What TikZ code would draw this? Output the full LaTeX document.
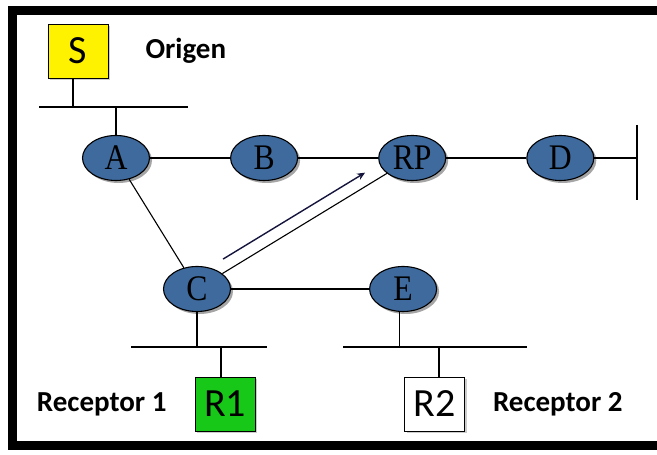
\documentclass[tikz,border=0pt]{standalone}
\usepackage{fontspec}
\setmainfont{Carlito}
\newfontfamily\routerfont[FakeStretch=0.88]{Liberation Serif}
\usetikzlibrary{positioning,shapes.geometric,shadows,calc,arrows.meta}

\definecolor{routerblue}{RGB}{62,106,158}
\definecolor{hostgreen}{RGB}{24,200,24}
\definecolor{arrowblue}{RGB}{20,20,60}

\tikzset{
    router/.style={ellipse, draw=black, line width=1.1pt, fill=routerblue,
        minimum width=67pt, minimum height=45pt, inner sep=0pt,
        font=\routerfont\fontsize{36}{36}\selectfont,
        drop shadow={shadow xshift=2.5pt, shadow yshift=-2.5pt, fill=black!70}},
    host/.style={draw=black, line width=0.6pt, minimum width=60pt,
        minimum height=54pt, inner sep=0pt, font=\fontsize{40}{40}\selectfont,
        drop shadow={shadow xshift=2pt, shadow yshift=-2pt, fill=black!40}},
    thinlink/.style={line width=1.1pt},
    thicklink/.style={line width=1.8pt},
    bus/.style={line width=2.2pt},
    tag/.style={inner sep=0pt, font=\bfseries\fontsize{29}{29}\selectfont}
}

\begin{document}
\begin{tikzpicture}[x=1pt, y=1pt]
    \useasboundingbox (0,0) rectangle (657,455);
    % frame
    \draw[line width=9pt] (657,444) -- (12.5,444) -- (12.5,9) -- (657,9);

    % routers
    \node[router] (a) at (116,297) {A};
    \node[router, right=80pt of a] (b) {B};
    \node[router, right=80pt of b] (rp) {RP};
    \node[router, right=80pt of rp] (d) {D};
    \node[router] (c) at (197,166) {C};
    \node[router, right=138pt of c] (e) {E};

    % hosts
    \node[host, fill=yellow] (s) at (78,404) {S};
    \node[host, fill=hostgreen] (r1) at (225,51) {R1};
    \node[host, fill=white] (r2) at (434.5,51) {R2};

    \begin{scope}[every node/.style={tag}]
        \node[right=37pt of s] (ns) {Origen};
        \node[left=28pt of r1] (nr1) {Receptor 1};
        \node[right=28pt of r2] (nr2) {Receptor 2};
    \end{scope}

    % LAN segments
    \coordinate (sl) at (39,348);   \coordinate (sr) at (188,348);
    \coordinate (cl) at (131,108);  \coordinate (cr) at (267,108);
    \coordinate (el) at (343,108);  \coordinate (er) at (527,108);
    \coordinate (dt) at (637,330);  \coordinate (db) at (637,255);
    \foreach \l/\r in {sl/sr,cl/cr,el/er,dt/db}
        \draw[bus] (\l) -- (\r);

    \draw[thinlink] ([xshift=-5pt]s.south) -- ([xshift=-5pt]s.south |- sl);
    \draw[thinlink] (a.north) -- (a.north |- sl);
    \draw[thinlink] (c.south) -- (c.south |- cl);
    \draw[thinlink] ([xshift=-4pt]r1.north) -- ([xshift=-4pt]r1.north |- cl);
    \draw[thinlink] ([xshift=-4pt]e.south) -- ([xshift=-4pt]e.south |- el);
    \draw[thinlink] ([xshift=4.5pt]r2.north) -- ([xshift=4.5pt]r2.north |- el);

    % links between routers
    \draw[thinlink] (a) -- (b);
    \draw[thinlink] (a) -- (c);
    \draw[thinlink] (c) -- (rp);
    \draw[thicklink] (b) -- (rp);
    \draw[thicklink] (rp) -- (d);
    \draw[thicklink] (d.east) -- (d.east -| dt);
    \draw[thicklink] (c) -- (e);

    \draw[line width=1.4pt, color=arrowblue, -{Stealth[length=8pt,width=7pt]}]
        ($(c)!0.15!(rp)!12pt!90:(rp)$) -- ($(c)!0.81!(rp)!12pt!90:(rp)$);
\end{tikzpicture}
\end{document}
